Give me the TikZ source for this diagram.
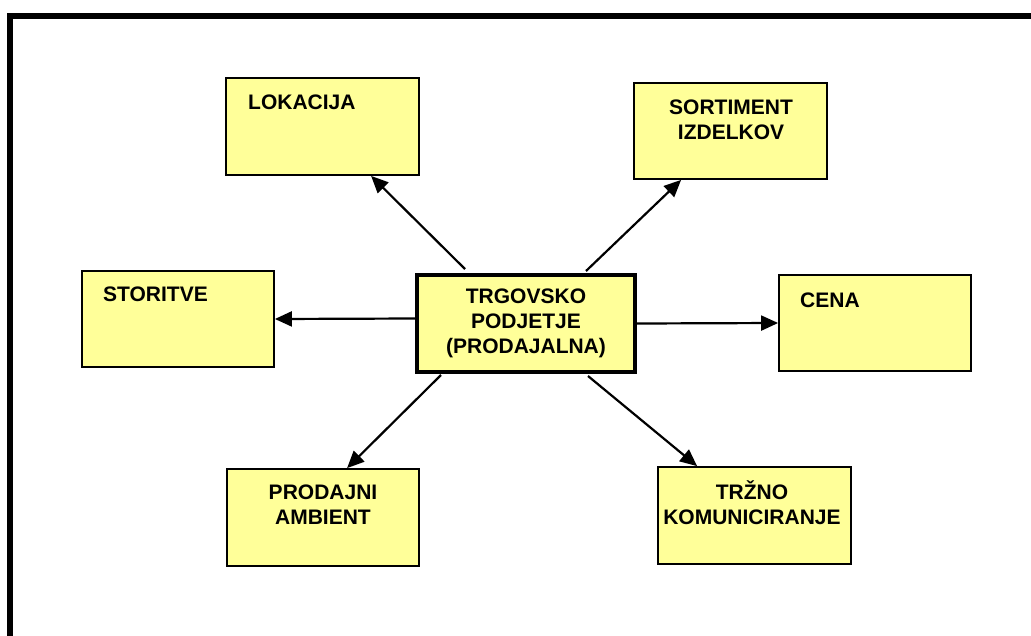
\documentclass[tikz,border=0pt]{standalone}
\usepackage{fontspec}
\setmainfont{Liberation Sans}
\usetikzlibrary{arrows.meta}
\definecolor{boxyellow}{RGB}{255,255,153}
\begin{document}
\begin{tikzpicture}[x=1pt,y=-1pt,
  box/.style={draw=black,line width=1.8pt,fill=boxyellow,inner sep=0pt},
  mainbox/.style={box,line width=4pt},
  lbl/.style={font=\fontsize{21}{25}\selectfont\bfseries,inner sep=0pt,align=center},
  conn/.style={line width=2.2pt,-{Triangle[length=17pt,width=15pt]}}]
\clip (0,0) rectangle (1031,635);
\fill[white] (0,0) rectangle (1031,635);
\draw[line width=6pt] (10,16) rectangle (1060,670);

\node[box,minimum width=193pt,minimum height=97pt] (lok) at (322.5,126.5) {};
\node[box,minimum width=193pt,minimum height=96pt] (sort) at (730.5,131) {};
\node[box,minimum width=192pt,minimum height=96pt] (stor) at (178,319) {};
\node[box,minimum width=192pt,minimum height=96pt] (cena) at (875,323) {};
\node[box,minimum width=192pt,minimum height=97pt] (prod) at (323,517.5) {};
\node[box,minimum width=193pt,minimum height=97pt] (trzno) at (754.5,515.5) {};
\node[mainbox,lbl,minimum width=218pt,minimum height=97pt] (c) at (526,323.5) {TRGOVSKO\\PODJETJE\\(PRODAJALNA)};

\node[lbl,anchor=west] (lokt) at (248,102) {LOKACIJA};
\node[lbl,anchor=west] (stort) at (103,294) {STORITVE};
\node[lbl,anchor=west] (cenat) at (800,300) {CENA};
\node[lbl] (sortt) at (731,120) {SORTIMENT\\IZDELKOV};
\node[lbl] (prodt) at (323,505) {PRODAJNI\\AMBIENT};
\node[lbl] (trznot) at (752,503) {TRŽNO\\KOMUNICIRANJE};

\draw[conn] ([xshift=50pt,yshift=4pt]c.north west) -- ([xshift=146pt]lok.south west);
\draw[conn] ([xshift=171pt,yshift=2pt]c.north west) -- ([xshift=48pt]sort.south west);
\draw[conn] ([yshift=5pt]c.west) -- (stor.east);
\draw[conn] (c.east) -- (cena.west);
\draw[conn] ([xshift=26pt,yshift=-1pt]c.south west) -- ([xshift=121pt]prod.north west);
\draw[conn] ([xshift=173pt,yshift=-2pt]c.south west) -- ([xshift=40pt]trzno.north west);
\end{tikzpicture}
\end{document}
